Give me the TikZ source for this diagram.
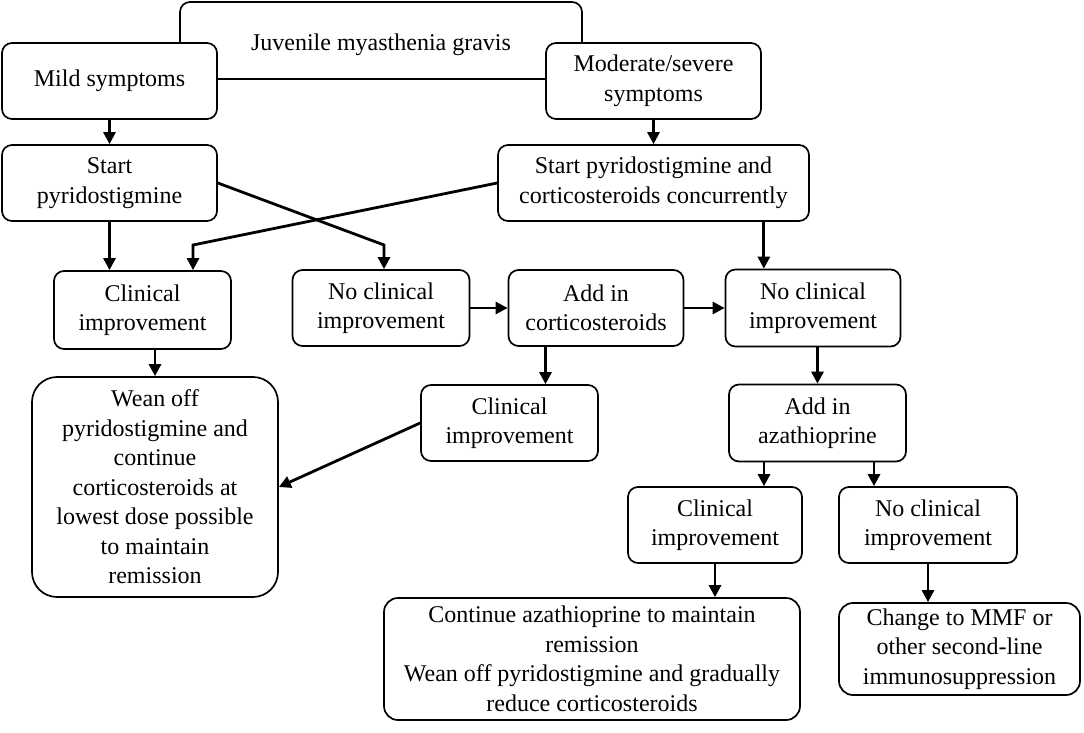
\documentclass[tikz,border=0pt]{standalone}
\usepackage{fontspec}
\setmainfont{Liberation Serif}
\usetikzlibrary{arrows.meta,calc,positioning}
\tikzset{
    block/.style = {draw, rectangle, rounded corners=10pt, fill=white,
        line width=1.7pt, inner sep=2pt,
        minimum height=76pt, minimum width=177pt, align=center,
        font=\fontsize{24}{29.5}\selectfont},
    arrow/.style = {draw, line width=2.8pt, -{Triangle[length=12pt,width=12pt]}}
}

\begin{document}
\begin{tikzpicture}[x=1pt, y=1pt]
    \useasboundingbox (0,0) rectangle (1084,-733);
        \node [block, minimum width=402pt, minimum height=77pt] (jmg) at (381,-40.5) {\raisebox{-4pt}[\height][\depth]{Juvenile myasthenia gravis}};
        \node [block, minimum width=215pt] (mild) at (109.5,-81) {Mild symptoms};
        \node [block, right of=mild, node distance=544pt, minimum width=215pt] (modsev) {Moderate/severe\\symptoms};
        \node [block, below of=mild, node distance=102pt, minimum width=215pt] (startpyr) {Start\\pyridostigmine};
        \node [block, below of=modsev, node distance=102pt, minimum width=311pt] (startboth) {Start pyridostigmine and\\corticosteroids concurrently};
        \draw [arrow] (mild) -- (startpyr);
        \draw [arrow] (modsev) -- (startboth);
        % second row
        \node [block, minimum height=78pt] (clin1) at (142.5,-310) {Clinical\\improvement};
        \node [block, below of=jmg, node distance=267.5pt] (noclin1) {No clinical\\improvement};
        \node [block, right of=noclin1, node distance=215pt, minimum width=175pt] (addcort) {Add in\\corticosteroids};
        \node [block, right of=addcort, node distance=217pt, minimum width=175pt, minimum height=77pt] (noclin2) {No clinical\\improvement};
        \coordinate (bend1) at (384,-245);
        \coordinate (bend2) at (193,-245);
        \draw [arrow] (startpyr.south) -- (startpyr.south |- clin1.north);
        \draw [arrow] (startpyr.east) -- (bend1) -- (bend1 |- noclin1.north);
        \draw [arrow] (startboth.west) -- (bend2) -- (bend2 |- clin1.north);
        \draw [arrow] ([xshift=-46pt]startboth.south east) -- ([xshift=-46pt]startboth.south east |- noclin2.north);
        \draw [arrow] (noclin1) -- (addcort);
        \draw [arrow] (addcort) -- (noclin2);
        % third row
        \node [block, minimum width=246pt, minimum height=220pt, rounded corners=25pt] (wean) at (155,-487) {Wean off\\pyridostigmine and\\continue\\corticosteroids at\\lowest dose possible\\to maintain\\remission};
        \node [block] (clin2) at (509.5,-423) {Clinical\\improvement};
        \node [block, minimum height=77pt] (addaza) at (817.5,-423) {Add in\\azathioprine};
        \draw [arrow] (clin1.south -| wean.north) -- (wean.north);
        \draw [arrow] ([xshift=-50.5pt]addcort.south) -- ([xshift=-50.5pt]addcort.south |- clin2.north);
        \draw [arrow] (noclin2.south -| addaza.north) -- (addaza.north);
        \draw [arrow] (clin2.west) -- (wean.east);
        % fourth row
        \node [block, minimum width=174pt] (clin3) at (715,-525) {Clinical\\improvement};
        \node [block, right of=clin3, node distance=213pt, minimum width=178pt] (noclin3) {No clinical\\improvement};
        \foreach \s/\n in {-53.5/clin3, 56.5/noclin3}{
            \draw [arrow] ([xshift=\s pt]addaza.south) -- ([xshift=\s pt]addaza.south |- \n.north);
        }
        \node [block, minimum width=416pt, minimum height=122pt, rounded corners=14pt] (contaza) at (592,-659) {Continue azathioprine to maintain\\remission\\Wean off pyridostigmine and gradually\\reduce corticosteroids};
        \node [block, minimum width=241pt, minimum height=92pt, rounded corners=14pt] (changemmf) at (959.5,-649) {Change to MMF or\\other second-line\\immunosuppression};
        \draw [arrow] (clin3.south) -- (clin3.south |- contaza.north);
        \draw [arrow] (noclin3.south) -- (noclin3.south |- changemmf.north);
\end{tikzpicture}
\end{document}
